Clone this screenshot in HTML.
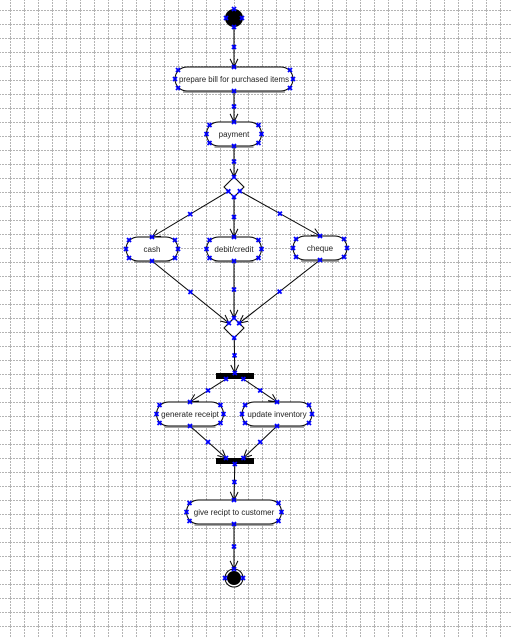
<!DOCTYPE html>
<html><head><meta charset="utf-8"><style>
html,body{margin:0;padding:0;background:#fff;}
svg{display:block;font-family:"Liberation Sans",sans-serif;}
</style></head><body>
<svg id="d" width="511" height="638" xmlns="http://www.w3.org/2000/svg">
<defs>
<pattern id="g" x="10" y="10" width="14" height="14" patternUnits="userSpaceOnUse">
<path d="M0 0.5H14M0.5 0V14" stroke="#b4b4b4" stroke-width="1" stroke-dasharray="2,1" fill="none"/>
</pattern>
</defs>
<rect width="511" height="638" fill="url(#g)"/>
<g id="edges"></g><g id="nodes"></g><g id="marks"></g>
</svg>
<script>
const ids=["start","bill","pay","dec","cash","debit","cheque","merge","fork","gen","upd","join","give","end"];
const kinds=["start","act","act","dia","act","act","act","dia","bar","act","act","bar","act","end"];
const labels=["","prepare bill for purchased items","payment","","cash","debit/credit","cheque","","","generate receipt","update inventory","","give recipt to customer",""];
const cx=[234,234,234,234,152,234,320,234,235,190,277,235,234,234];
const cy=[18,79,134,187,249,249,248,328,376,414,414,461,512,578];
const ww=[18,118,55,20,52,55,54,20,38,67,70,38,95,18];
const hh=[18,24,24,20,24,24,24,20,6,24,24,6,24,18];
const from=["start","bill","pay","dec","dec","dec","cash","debit","cheque","merge","fork","fork","gen","upd","join","give"];
const to=["bill","pay","dec","cash","debit","cheque","merge","merge","merge","fork","gen","upd","join","join","give","end"];
const NS="http://www.w3.org/2000/svg";
function mk(t,a,p){const e=document.createElementNS(NS,t);for(const k in a)e.setAttribute(k,a[k]);p.appendChild(e);return e;}
const E=document.getElementById("edges"),N=document.getElementById("nodes"),M=document.getElementById("marks");
function xm(x,y){const g=mk("g",{stroke:"#00f","stroke-width":"1.8"},M);


mk("path",{d:`M${x-2} ${y-2}L${x+2} ${y+2}M${x+2} ${y-2}L${x-2} ${y+2}`},g);}
function idx(n){return ids.indexOf(n);}
function port(i,dx,dy){
 const k=kinds[i];
 if(k==="act")return [cx[i],cy[i]+Math.sign(dy)*hh[i]/2];
 if(k==="bar")return [cx[i],cy[i]+Math.sign(dy)*hh[i]/2];
 if(k==="dia"){const h=hh[i]/2;const s=h/(Math.abs(dx)+Math.abs(dy));return [cx[i]+dx*s,cy[i]+dy*s];}
 const r=ww[i]/2,L=Math.hypot(dx,dy);return [cx[i]+dx/L*r,cy[i]+dy/L*r];}
for(let j=0;j<from.length;j++){
 const a=idx(from[j]),b=idx(to[j]);
 const p=port(a,cx[b]-cx[a],cy[b]-cy[a]);const q=port(b,cx[a]-cx[b],cy[a]-cy[b]);
 if(kinds[b]==="bar")q[0]=cx[b]+(p[0]-cx[b])*0.2;
 if(kinds[a]==="bar")p[0]=cx[a]+(q[0]-cx[a])*0.2;
 const g=mk("g",{},E);
 
 
 mk("line",{x1:p[0],y1:p[1],x2:q[0],y2:q[1],stroke:"#000","stroke-width":"1"},g);
 const ang=Math.atan2(q[1]-p[1],q[0]-p[0]);
 const l1=[q[0]-9*Math.cos(ang-0.45),q[1]-9*Math.sin(ang-0.45)],l2=[q[0]-9*Math.cos(ang+0.45),q[1]-9*Math.sin(ang+0.45)];
 mk("path",{d:`M${l1[0]} ${l1[1]}L${q[0]} ${q[1]}L${l2[0]} ${l2[1]}`,stroke:"#000",fill:"none"},g);
 xm((p[0]+q[0])/2,(p[1]+q[1])/2);xm(p[0],p[1]);xm(q[0],q[1]);
}
for(let i=0;i<ids.length;i++){
 const g=mk("g",{},N);
 
 
 const x=cx[i],y=cy[i],w=ww[i],h=hh[i];
 if(kinds[i]==="start"){mk("circle",{cx:x,cy:y,r:9,fill:"#000"},g);xm(x-8,y);xm(x+8,y);xm(x,y-9);}
 else if(kinds[i]==="end"){mk("circle",{cx:x,cy:y,r:9,fill:"#fff",stroke:"#000"},g);mk("circle",{cx:x,cy:y,r:7,fill:"#000"},g);xm(x-9,y);xm(x+9,y);}
 else if(kinds[i]==="dia"){mk("path",{d:`M${x} ${y-10}L${x+10} ${y}L${x} ${y+10}L${x-10} ${y}Z`,fill:"#fff",stroke:"#000"},g);}
 else if(kinds[i]==="bar"){mk("rect",{x:x-w/2,y:y-h/2,width:w,height:h,fill:"#000"},g);}
 else{mk("rect",{x:x-w/2,y:y-h/2,width:w,height:h,rx:12,ry:12,fill:"#fff",stroke:"#000"},g);
  mk("line",{x1:x-w/2+8,y1:y+h/2+1,x2:x+w/2-8,y2:y+h/2+1,stroke:"#888","stroke-width":"1.5"},g);
  const t=mk("text",{x:x,y:y+3,"text-anchor":"middle","font-size":"8",fill:"#222"},g);t.textContent=labels[i];
  if(t.getComputedTextLength()>w-8){t.setAttribute("textLength",w-8);t.setAttribute("lengthAdjust","spacingAndGlyphs");}
  xm(x-w/2,y);xm(x+w/2,y);xm(x-w/2+3,y-h/2+3);xm(x+w/2-3,y-h/2+3);xm(x-w/2+3,y+h/2-3);xm(x+w/2-3,y+h/2-3);}
}
</script>
</body></html>
